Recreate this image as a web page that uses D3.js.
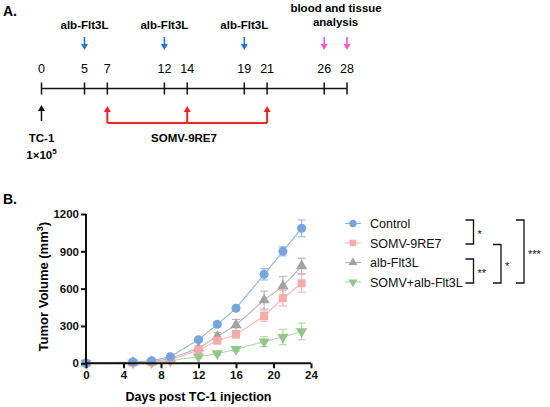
<!DOCTYPE html>
<html>
<head>
<meta charset="utf-8">
<script src="https://cdn.jsdelivr.net/npm/d3@7"></script>
<style>
  body { margin: 0; background: #fff; }
  svg { font-family: "Liberation Sans", Arial, sans-serif; }
</style>
</head>
<body>
<div id="graph"></div>
<script>
// ---- Panel A: treatment schedule ----
var timelineDays = [0, 5, 7, 12, 14, 19, 21, 26, 28];
var fltDays = [5, 12, 19];
var somvDays = [7, 14, 21];
var analysisDays = [26, 28];
var tumorDay = 0;

// ---- Panel B: tumour growth ----
var days = [0, 5, 7, 9, 12, 14, 16, 19, 21, 23];
var seriesNames = ["Control", "SOMV-9RE7", "alb-Flt3L", "SOMV+alb-Flt3L"];
var controlMean = [0, 10, 21, 53, 190, 313, 442, 715, 900, 1085];
var controlErr  = [0, 5, 5, 8, 12, 15, 15, 45, 37, 67];
var somvMean    = [0, 5, 8, 27, 107, 182, 230, 380, 523, 643];
var somvErr     = [0, 3, 4, 6, 15, 20, 22, 42, 62, 72];
var albMean     = [0, 6, 12, 38, 120, 216, 308, 508, 620, 782];
var albErr      = [0, 4, 6, 8, 18, 30, 45, 72, 78, 62];
var comboMean   = [0, 4, 6, 20, 53, 78, 113, 174, 211, 256];
var comboErr    = [0, 2, 3, 5, 10, 12, 15, 40, 62, 67];
var yTicks = [0, 300, 600, 900, 1200];
var xTicks = [0, 4, 8, 12, 16, 20, 24];

// significance brackets: [from legend row, to legend row, label, level]
var comparisons = [[0, 1, "*", 0], [2, 3, "**", 0], [1, 3, "*", 1], [0, 3, "***", 2]];

var svg = d3.select("#graph").append("svg")
    .attr("width", 550)
    .attr("height", 407);

// ================= Panel A =================
var t = d3.scaleLinear().domain([0, 5, 28]).range([41.5, 84.5, 347]);
var lineY = 88.5;

svg.append("text").attr("x", 3).attr("y", 16)
    .attr("font-size", 14).attr("font-weight", "bold").text("A.");

var gA = svg.append("g");

// timeline
gA.append("line")
    .attr("x1", t(0)).attr("x2", t(28))
    .attr("y1", lineY).attr("y2", lineY)
    .attr("stroke", "#111").attr("stroke-width", 1.5);

gA.selectAll(".tl-tick").data(timelineDays).enter().append("line")
    .attr("x1", d => t(d)).attr("x2", d => t(d))
    .attr("y1", lineY - 6).attr("y2", lineY + 6)
    .attr("stroke", "#111").attr("stroke-width", 1.5);

gA.selectAll(".tl-label").data(timelineDays).enter().append("text")
    .attr("x", d => t(d)).attr("y", 73)
    .attr("text-anchor", "middle").attr("font-size", 12.5)
    .text(d => d);

function arrowDown(g, x, y1, y2, color) {
  g.append("line").attr("x1", x).attr("x2", x).attr("y1", y1).attr("y2", y2 - 5)
      .attr("stroke", color).attr("stroke-width", 1.6);
  g.append("path")
      .attr("d", "M" + (x - 3.5) + "," + (y2 - 6) + "L" + (x + 3.5) + "," + (y2 - 6) + "L" + x + "," + y2 + "Z")
      .attr("fill", color);
}
function arrowUp(g, x, y1, y2, color, w) {
  g.append("line").attr("x1", x).attr("x2", x).attr("y1", y1 + 5).attr("y2", y2)
      .attr("stroke", color).attr("stroke-width", w);
  g.append("path")
      .attr("d", "M" + (x - 3.5) + "," + (y1 + 6) + "L" + (x + 3.5) + "," + (y1 + 6) + "L" + x + "," + y1 + "Z")
      .attr("fill", color);
}

// alb-Flt3L injections
fltDays.forEach(function(d) {
  arrowDown(gA, t(d), 37, 50, "#1e78cf");
  gA.append("text").attr("x", t(d)).attr("y", 29)
      .attr("text-anchor", "middle").attr("font-size", 11.5).attr("font-weight", "bold")
      .text("alb-Flt3L");
});

// analysis
analysisDays.forEach(function(d) { arrowDown(gA, t(d), 37, 50, "#f05ad6"); });
gA.append("text").attr("x", (t(26) + t(28)) / 2 + 0.5).attr("y", 12)
    .attr("text-anchor", "middle").attr("font-size", 11.5).attr("font-weight", "bold")
    .text("blood and tissue");
gA.append("text").attr("x", (t(26) + t(28)) / 2).attr("y", 26)
    .attr("text-anchor", "middle").attr("font-size", 11.5).attr("font-weight", "bold")
    .text("analysis");

// tumour inoculation
arrowUp(gA, t(tumorDay), 105, 121, "#111", 1.5);
gA.append("text").attr("x", t(tumorDay)).attr("y", 141.5)
    .attr("text-anchor", "middle").attr("font-size", 11.5).attr("font-weight", "bold")
    .text("TC-1");
var tc = gA.append("text").attr("x", t(tumorDay)).attr("y", 159)
    .attr("text-anchor", "middle").attr("font-size", 11.5).attr("font-weight", "bold");
tc.append("tspan").text("1\u00d710");
tc.append("tspan").attr("dy", -5).attr("font-size", 8).text("5");

// SOMV-9RE7 injections
somvDays.forEach(function(d) { arrowUp(gA, t(d), 106, 123, "#f22525", 2); });
gA.append("line")
    .attr("x1", t(somvDays[0])).attr("x2", t(somvDays[somvDays.length - 1]))
    .attr("y1", 123).attr("y2", 123)
    .attr("stroke", "#f22525").attr("stroke-width", 2);
gA.append("text").attr("x", 184).attr("y", 141.5)
    .attr("text-anchor", "middle").attr("font-size", 11.5).attr("font-weight", "bold")
    .text("SOMV-9RE7");

// ================= Panel B =================
svg.append("text").attr("x", 3).attr("y", 203.5)
    .attr("font-size", 14).attr("font-weight", "bold").text("B.");

var x = d3.scaleLinear().domain([0, 24]).range([86, 311]);
var y = d3.scaleLinear().domain([0, 1200]).range([363.3, 214]);

var gB = svg.append("g");

var series = [
  { name: seriesNames[3], mean: comboMean, err: comboErr, color: "#93c788", line: "#b5d9ab", err_c: "#b5d9ab", sym: "down" },
  { name: seriesNames[2], mean: albMean, err: albErr, color: "#a3a3a3", line: "#b4b4b4", err_c: "#b8b8b8", sym: "up" },
  { name: seriesNames[1], mean: somvMean, err: somvErr, color: "#f8aaa8", line: "#f9b8b6", err_c: "#f9b8b6", sym: "square" },
  { name: seriesNames[0], mean: controlMean, err: controlErr, color: "#75a5dc", line: "#8db5e4", err_c: "#9cbfe8", sym: "circle" }
];

function symbolPath(s, size) {
  if (s === "circle") return d3.symbol().type(d3.symbolCircle).size(size)();
  if (s === "square") return d3.symbol().type(d3.symbolSquare).size(size)();
  return d3.symbol().type(d3.symbolTriangle).size(size * 0.85)();
}

var line = d3.line()
    .x(function(d) { return x(d[0]); })
    .y(function(d) { return y(d[1]); });

series.forEach(function(s) {
  var pts = days.map(function(d, i) { return [d, s.mean[i], s.err[i]]; });
  var g = gB.append("g");

  g.append("path").datum(pts).attr("d", line)
      .attr("fill", "none").attr("stroke", s.line).attr("stroke-width", 1.1);

  var eb = g.selectAll(".eb").data(pts.filter(function(p) { return p[2] > 0; })).enter().append("g");
  eb.append("line")
      .attr("x1", p => x(p[0])).attr("x2", p => x(p[0]))
      .attr("y1", p => y(p[1] - p[2])).attr("y2", p => y(p[1] + p[2]))
      .attr("stroke", s.err_c).attr("stroke-width", 1.2);
  eb.append("line")
      .attr("x1", p => x(p[0]) - 4).attr("x2", p => x(p[0]) + 4)
      .attr("y1", p => y(p[1] + p[2])).attr("y2", p => y(p[1] + p[2]))
      .attr("stroke", s.err_c).attr("stroke-width", 1.2);
  eb.append("line")
      .attr("x1", p => x(p[0]) - 4).attr("x2", p => x(p[0]) + 4)
      .attr("y1", p => y(p[1] - p[2])).attr("y2", p => y(p[1] - p[2]))
      .attr("stroke", s.err_c).attr("stroke-width", 1.2);

  g.selectAll(".pt").data(pts).enter().append("path")
      .attr("d", symbolPath(s.sym, 64))
      .attr("transform", function(p) {
        return "translate(" + x(p[0]) + "," + y(p[1]) + ")" + (s.sym === "down" ? " rotate(180)" : "");
      })
      .attr("fill", s.color);
});

// axes
var yAxis = gB.append("g")
    .attr("transform", "translate(" + x(0) + ",0)")
    .call(d3.axisLeft(y).tickValues(yTicks).tickFormat(d3.format("d")).tickSize(5).tickPadding(2));
var xAxis = gB.append("g")
    .attr("transform", "translate(0," + y(0) + ")")
    .call(d3.axisBottom(x).tickValues(xTicks).tickFormat(d3.format("d")).tickSize(5).tickPadding(3));

[xAxis, yAxis].forEach(function(a) {
  a.select(".domain").attr("stroke", "#111").attr("stroke-width", 2);
  a.selectAll(".tick line").attr("stroke", "#111").attr("stroke-width", 2);
  a.selectAll(".tick text").attr("fill", "#111")
      .attr("font-family", "Liberation Sans, Arial, sans-serif")
      .attr("font-size", 11.5).attr("font-weight", "bold");
});
yAxis.select(".domain").attr("d", "M0," + y(1200) + "V" + y(0));
xAxis.select(".domain").attr("d", "M" + x(0) + ",0H" + x(24));

// axis titles
gB.append("text")
    .attr("x", (x(0) + x(24)) / 2).attr("y", 401)
    .attr("text-anchor", "middle").attr("font-size", 12.5).attr("font-weight", "bold")
    .text("Days post TC-1 injection");

var yt = gB.append("text")
    .attr("transform", "translate(48," + ((y(0) + y(1200)) / 2 - 2) + ") rotate(-90)")
    .attr("text-anchor", "middle").attr("font-size", 13).attr("font-weight", "bold");
yt.append("tspan").text("Tumor Volume (mm");
yt.append("tspan").attr("dy", -5).attr("font-size", 9).text("3");
yt.append("tspan").attr("dy", 5).text(")");

// legend
var legendRow = d3.scalePoint().domain(d3.range(seriesNames.length)).range([223.5, 282]);
var legend = gB.append("g");
seriesNames.forEach(function(name, i) {
  var s = series.filter(function(d) { return d.name === name; })[0];
  var ly = legendRow(i);
  legend.append("line").attr("x1", 345).attr("x2", 361).attr("y1", ly).attr("y2", ly)
      .attr("stroke", s.line).attr("stroke-width", 1.1);
  legend.append("path")
      .attr("d", symbolPath(s.sym, 42))
      .attr("transform", "translate(353," + ly + ")" + (s.sym === "down" ? " rotate(180)" : ""))
      .attr("fill", s.color);
  legend.append("text").attr("x", 370).attr("y", ly + 4.5)
      .attr("font-size", 12.5).attr("fill", "#111").text(name);
});

// significance brackets
var levelX = [473.5, 501, 524];
comparisons.forEach(function(c) {
  var bx = levelX[c[3]];
  var top = legendRow(c[0]) - 3.5 + (c[3] === 1 ? 5 : 0);
  var bot = legendRow(c[1]) + 1;
  legend.append("path")
      .attr("d", "M" + (bx - 8) + "," + top + "H" + bx + "V" + bot + "H" + (bx - 8))
      .attr("fill", "none").attr("stroke", "#111").attr("stroke-width", 1.3);
  legend.append("text").attr("x", bx + 4).attr("y", (top + bot) / 2 + 6)
      .attr("font-size", 11).attr("fill", "#111").text(c[2]);
});
</script>
</body>
</html>
